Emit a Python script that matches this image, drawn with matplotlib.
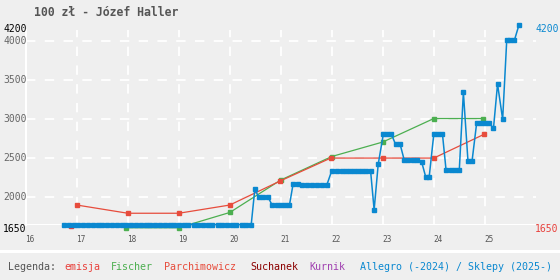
import matplotlib
matplotlib.use("Agg")
import matplotlib.pyplot as plt
import matplotlib.transforms as mtransforms

# ---- data ----
title = "100 zł - Józef Haller"
x_ticks = [16, 17, 18, 19, 20, 21, 22, 23, 24, 25]
y_ticks = [2000, 2500, 3000, 3500, 4000]
y_min, y_max = 1650, 4200

emisja_x = [16.89]
emisja_y = [1630]

fischer_x = [17.97, 19.0, 20.0, 21.0, 22.0, 23.0, 24.0, 24.97]
fischer_y = [1610, 1610, 1805, 2220, 2520, 2705, 3005, 3005]

parch_x = [17.0, 18.0, 19.0, 20.0, 20.98, 21.98, 23.0, 24.0, 24.99]
parch_y = [1900, 1795, 1795, 1900, 2205, 2500, 2500, 2500, 2805]

allegro_x = [16.75, 16.84, 16.94, 17.03, 17.13, 17.22, 17.31, 17.41, 17.50, 17.60,
             17.69, 17.78, 17.88, 17.97, 18.07, 18.16, 18.25, 18.35, 18.44, 18.54,
             18.63, 18.72, 18.82, 18.91, 19.01, 19.10, 19.19, 19.29, 19.38, 19.48,
             19.57, 19.66, 19.76, 19.85, 19.95, 20.04, 20.13, 20.23, 20.32, 20.42,
             20.49,
             20.57, 20.66, 20.75,
             20.83, 20.92, 21.01, 21.08, 21.17,
             21.24, 21.34,
             21.42, 21.51, 21.62, 21.71, 21.81, 21.90,
             22.00, 22.10, 22.20, 22.28, 22.36, 22.44, 22.52, 22.60, 22.67, 22.76,
             22.83, 22.91,
             23.01, 23.09, 23.17,
             23.25, 23.34,
             23.42, 23.50, 23.59, 23.67,
             23.76,
             23.84, 23.91,
             24.00, 24.09, 24.17,
             24.24, 24.33, 24.41, 24.50,
             24.58,
             24.67, 24.75,
             24.84, 24.92, 25.00, 25.09,
             25.17, 25.25, 25.35,
             25.43, 25.50, 25.58,
             25.67]
allegro_y = [1650] * 40 + [
             2100,
             2000, 2000, 2000,
             1900, 1900, 1900, 1900, 1900,
             2165, 2165,
             2152, 2152, 2152, 2152, 2152, 2152,
             2340, 2340, 2340, 2340, 2340, 2340, 2340, 2340, 2340, 2340,
             1838, 2422,
             2803, 2803, 2803,
             2675, 2675,
             2475, 2475, 2475, 2475,
             2455,
             2262, 2262,
             2805, 2805, 2805,
             2348, 2348, 2348, 2348,
             3340,
             2462, 2462,
             2945, 2945, 2945, 2945,
             2880, 3445, 2995,
             4005, 4005, 4005,
             4200]

legend_items = [("Legenda:", "#555555"), ("emisja", "#e8413c"), ("Fischer", "#4caf50"),
                ("Parchimowicz", "#e74c3c"), ("Suchanek", "#8b0000"), ("Kurnik", "#a040b0"),
                ("Allegro (-2024) / Sklepy (2025-)", "#0a88d0")]
legend_x_px = [8, 64, 111, 164, 250, 309, 360]

# ---- style ----
BG = "#efefef"
BLUE = "#0a88d0"
RED = "#e8413c"
GREEN = "#4caf50"
FONT = "DejaVu Sans Mono"

W, H = 560, 280
fig = plt.figure(figsize=(W / 100, H / 100), dpi=100, facecolor=BG)
ax_left, ax_right = 25.8, 535.8
ax_top, ax_bot = 25.0, 224.6
ax = fig.add_axes([ax_left / W, 1 - ax_bot / H, (ax_right - ax_left) / W, (ax_bot - ax_top) / H])
ax.set_facecolor(BG)
ax.set_xlim(16, 26)
ax.set_ylim(y_min, y_max)
for s in ax.spines.values():
    s.set_visible(False)
ax.set_xticks([])
ax.set_yticks([])

# grid
for yv in y_ticks:
    ax.axhline(yv, color="white", lw=1.3, dashes=(5.2, 5.2), zorder=1)
for xv in x_ticks[1:]:
    ax.plot([xv, xv], [y_min, 4130], color="white", lw=1.3, dashes=(5.2, 5.2), zorder=1)
ax.axhline(y_min, color="white", lw=1.5, zorder=1)
ax.plot([16, 16], [y_min, 4130], color="white", lw=1.5, zorder=1, clip_on=False)

# series
ax.plot(fischer_x, fischer_y, color=GREEN, lw=0.9, marker="s", ms=2.5, zorder=3, clip_on=False)
ax.plot(parch_x, parch_y, color="#e74c3c", lw=0.9, marker="s", ms=2.5, zorder=3, clip_on=False)
ax.plot(emisja_x, emisja_y, color=RED, lw=0, marker="s", ms=3.2, zorder=2, clip_on=False)
ax.plot(allegro_x, allegro_y, color=BLUE, lw=1.1, marker="s", ms=2.9, zorder=4, clip_on=False)

# x tick labels
off = mtransforms.ScaledTranslation(4 / 100, 0, fig.dpi_scale_trans)
xtr = mtransforms.blended_transform_factory(ax.transData, fig.transFigure) + off
for xv in x_ticks:
    ax.text(xv, 1 - 239.5 / H, str(xv), transform=xtr, ha="center", va="center",
            fontsize=5.6, color="#555555", family=FONT)

# y tick labels
FS = 7.0
for yv in y_ticks:
    fig.text(26.5 / W, 1 - (ax_bot - (yv - y_min) * (ax_bot - ax_top) / (y_max - y_min)) / H,
             str(yv), ha="right", va="center", fontsize=FS, color="#666666", family=FONT)
fig.text(26.5 / W, 1 - 29 / H, str(y_max), ha="right", va="center", fontsize=FS, color="black", family=FONT)
fig.text(26.5 / W, 1 - 229 / H, str(y_min), ha="right", va="center", fontsize=FS, color="black", family=FONT)
fig.text(535 / W, 1 - 29 / H, str(y_max), ha="left", va="center", fontsize=FS, color=BLUE, family=FONT)
fig.text(535 / W, 1 - 229 / H, str(y_min), ha="left", va="center", fontsize=FS, color=RED, family=FONT)

# title
fig.text(34 / W, 1 - 12 / H, title, ha="left", va="center", fontsize=8.3, fontweight="bold",
         color="#555555", family=FONT)

# legend separator band
fig.patches.append(plt.Rectangle((0, 1 - 253 / H), 1, 3 / H, transform=fig.transFigure,
                                 facecolor="white", edgecolor="none"))
for (txt, col), xp in zip(legend_items, legend_x_px):
    fig.text(xp / W, 1 - 267 / H, txt, ha="left", va="center", fontsize=7.2, color=col, family=FONT)

fig.savefig("out.png", dpi=100, facecolor=BG)
